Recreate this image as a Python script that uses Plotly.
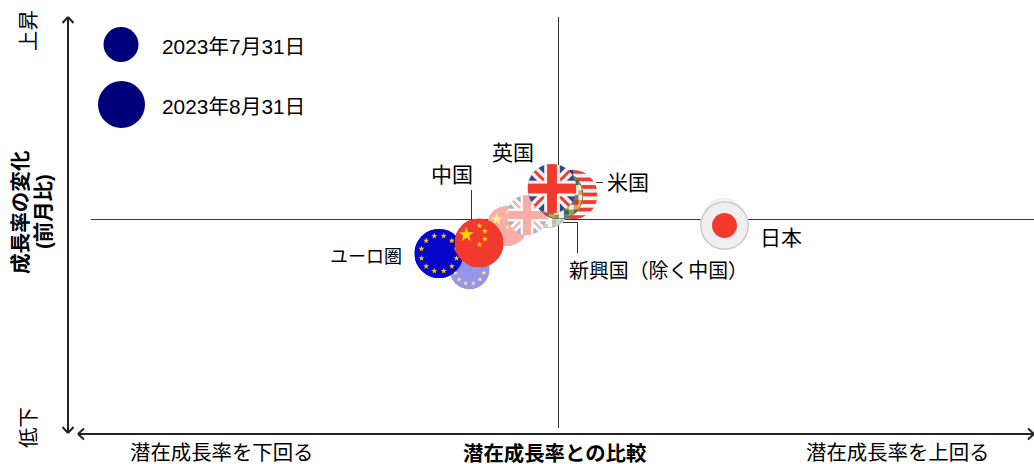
import base64
import math
import plotly.graph_objects as go

# Growth gap (x) and month-on-month change (y) per economy, 31 July 2023
july_names = ["ユーロ圏", "中国", "新興国", "米国", "日本", "英国"]
july_gap = [-0.885, -0.51, -0.10, 0.07, 1.655, -0.31]
july_change = [-0.50, -0.07, 0.11, 0.20, 0.01, 0.04]

# Same measures, 31 August 2023
august_names = ["ユーロ圏", "中国", "米国", "新興国", "英国", "日本"]
august_gap = [-1.19, -0.79, 0.15, 0.01, -0.06, 1.665]
august_change = [-0.345, -0.24, 0.245, 0.24, 0.305, -0.065]

legend_dates = ["2023年7月31日", "2023年8月31日"]
legend_gap = [-4.37, -4.365]
legend_change = [1.745, 1.145]

FONT = "Liberation Sans, Noto Sans CJK JP, sans-serif"
JULY_PX, AUGUST_PX = 40, 49
RED, GOLD = "#f23a2c", "#fdd20e"


def soften(color, keep):
    rgb = [int(color[i:i + 2], 16) for i in (1, 3, 5)]
    return "#" + "".join(f"{round(255 + (c - 255) * keep):02x}" for c in rgb)


def star(cx, cy, r, fill):
    pts = []
    for i in range(10):
        rad = r if i % 2 == 0 else r * 0.4
        a = -math.pi / 2 + i * math.pi / 5
        pts.append(f"{cx + rad * math.cos(a):.2f},{cy + rad * math.sin(a):.2f}")
    return f'<polygon points="{" ".join(pts)}" fill="{fill}"/>'


def eu_flag(c):
    body = f'<rect x="-50" y="-50" width="100" height="100" fill="{c("#0606c8")}"/>'
    for i in range(12):
        a = i * math.pi / 6 + math.pi / 12
        body += star(37 * math.cos(a), 37 * math.sin(a), 6.5, c("#fcc60c"))
    return body


def china_flag(c):
    body = f'<rect x="-50" y="-50" width="100" height="100" fill="{c(RED)}"/>'
    body += star(-26, -17, 16, c(GOLD))
    for dx, dy in [(1, -35), (12, -24), (12, -8), (1, 3)]:
        body += star(dx, dy, 6.5, c(GOLD))
    return body


def uk_flag(c):
    white, red = c("#f3f0ef"), c(RED)
    return (
        f'<rect x="-50" y="-50" width="100" height="100" fill="{c("#2c4a8c")}"/>'
        f'<path d="M-50-50L50 50M50-50L-50 50" stroke="{white}" stroke-width="20"/>'
        f'<path d="M-50-50L0 0M50 50L0 0" stroke="{red}" stroke-width="6"/>'
        f'<path d="M50-50L0 0M-50 50L0 0" stroke="{red}" stroke-width="6"/>'
        f'<rect x="-50" y="-16" width="100" height="32" fill="{white}"/>'
        f'<rect x="-16" y="-50" width="32" height="100" fill="{white}"/>'
        f'<rect x="-50" y="-10" width="100" height="20" fill="{red}"/>'
        f'<rect x="-10" y="-50" width="20" height="100" fill="{red}"/>'
    )


def us_flag(c):
    body = f'<rect x="-50" y="-50" width="100" height="100" fill="{c("#f5f3f3")}"/>'
    for i in range(0, 13, 2):
        body += f'<rect x="-50" y="{-50 + i * 100 / 13:.2f}" width="100" height="{100 / 13:.2f}" fill="{c("#ef3b36")}"/>'
    body += f'<rect x="-50" y="-50" width="50" height="46" fill="{c("#24386f")}"/>'
    return body


def emerging_flag(c):
    # Patchwork of national-flag colours
    palette = ["#3f7d45", "#f0eee6", "#c8402f", "#8f9a5c", "#f0eee6", "#d9a441", "#2f6e4f", "#6f7f86"]
    body = ""
    for row in range(10):
        for col in range(10):
            fill = c(palette[(row * 3 + col * 5 + row * col) % 8])
            body += f'<rect x="{-50 + col * 10}" y="{-50 + row * 10}" width="10.5" height="10.5" fill="{fill}"/>'
    body += f'<circle r="49" fill="none" stroke="{c("#56625a")}" stroke-width="2"/>'
    return body


def japan_flag(c):
    return (
        f'<rect x="-50" y="-50" width="100" height="100" fill="{c("#efefef")}"/>'
        f'<circle r="48.5" fill="none" stroke="{c("#c9c9c9")}" stroke-width="3"/>'
        f'<circle r="25.5" fill="{c(RED)}"/>'
    )


FLAGS = {
    "ユーロ圏": (eu_flag, "#0606c8"), "中国": (china_flag, RED), "英国": (uk_flag, "#f3f0ef"),
    "米国": (us_flag, "#f5f3f3"), "新興国": (emerging_flag, "#8f9a5c"), "日本": (japan_flag, "#efefef"),
}


def flag_image(name, x, y, px, keep):
    draw, _ = FLAGS[name]
    body = draw(lambda col: soften(col, keep))
    svg = (
        '<svg xmlns="http://www.w3.org/2000/svg" width="200" height="200" viewBox="-50 -50 100 100">'
        f'<defs><clipPath id="d"><circle r="50"/></clipPath></defs><g clip-path="url(#d)">{body}</g></svg>'
    )
    uri = "data:image/svg+xml;base64," + base64.b64encode(svg.encode()).decode()
    return dict(source=uri, xref="x", yref="y", x=x, y=y, sizex=px / 100, sizey=px / 100,
                xanchor="center", yanchor="middle", sizing="stretch", layer="above")


fig = go.Figure()
LINE = "#222222"


def segment(x0, y0, x1, y1, width=1, color="#333333"):
    fig.add_shape(type="line", x0=x0, y0=y0, x1=x1, y1=y1, xref="x", yref="y",
                  line=dict(color=color, width=width), layer="below")


# Quadrant divider lines through the origin, nudged onto the pixel grid
segment(-4.67, -0.005, 4.76, -0.005)
segment(0.005, 2.02, 0.005, -2.09)

# Double-headed axes with open chevrons
segment(-4.90, 2.02, -4.90, -2.14, 2, LINE)
segment(-4.80, -2.15, 4.76, -2.15, 2, LINE)
for tip_x, tip_y, dx, dy in [(-4.90, 2.02, 0.055, -0.06), (-4.90, -2.14, 0.055, 0.06)]:
    segment(tip_x - dx, tip_y + dy, tip_x, tip_y, 2, LINE)
    segment(tip_x + dx, tip_y + dy, tip_x, tip_y, 2, LINE)
for tip_x, tip_y, dx, dy in [(-4.80, -2.15, 0.06, 0.055), (4.76, -2.15, -0.06, 0.055)]:
    segment(tip_x + dx, tip_y + dy, tip_x, tip_y, 2, LINE)
    segment(tip_x + dx, tip_y - dy, tip_x, tip_y, 2, LINE)

# Leader lines from the flags to their labels
segment(-0.865, 0.29, -0.865, -0.02)
segment(0.38, 0.365, 0.45, 0.365)
segment(0.05, -0.035, 0.195, -0.035)
segment(0.195, -0.035, 0.195, -0.345)

fig.add_trace(go.Scatter(
    x=july_gap, y=july_change, mode="markers", name="7月", hoverinfo="skip",
    marker=dict(size=JULY_PX, color=[soften(FLAGS[n][1], 0.42) for n in july_names], line_width=0, opacity=1),
))
fig.add_trace(go.Scatter(
    x=august_gap, y=august_change, mode="markers", name="8月", hoverinfo="skip",
    marker=dict(size=AUGUST_PX, color=[FLAGS[n][1] for n in august_names], line_width=0, opacity=1),
))
fig.add_trace(go.Scatter(
    x=legend_gap, y=legend_change, mode="markers", hoverinfo="skip",
    marker=dict(size=[35, 47], color="#00007a", line_width=0, opacity=1),
))

images = [flag_image(n, x, y, JULY_PX, 0.42) for n, x, y in zip(july_names, july_gap, july_change)]
images += [flag_image(n, x, y, AUGUST_PX, 1) for n, x, y in zip(august_names, august_gap, august_change)]


def label(text, x, y, angle=0, bold=False, size=20.4, anchor="center"):
    fig.add_annotation(
        text=f"<b>{text}</b>" if bold else text, x=x, y=y, xref="x", yref="y", showarrow=False,
        textangle=angle, xanchor=anchor, yanchor="middle", align="center",
        font=dict(family=FONT, size=size, color="#000000"),
    )


for date, gx, gy in zip(legend_dates, [-3.98, -3.98], [1.73, 1.13]):
    label(date, gx, gy, size=20.8, anchor="left")

label("英国", -0.455, 0.665, size=21)
label("中国", -1.065, 0.45, size=21)
label("米国", 0.70, 0.37, size=21)
label("日本", 2.225, -0.18, size=21)
label("ユーロ圏", -1.92, -0.38, size=18)
label("新興国（除く中国）", 1.0, -0.52, size=19.9)
label("潜在成長率を下回る", -3.365, -2.34)
label("潜在成長率との比較", -0.035, -2.34, bold=True)
label("潜在成長率を上回る", 3.395, -2.34)
label("上昇", -5.29, 1.88, angle=-90)
label("低下", -5.29, -2.09, angle=-90)
label("成長率の変化", -5.38, 0.07, angle=-90, bold=True, size=20.6)
label("(前月比)", -5.14, 0.07, angle=-90, bold=True)

fig.update_layout(
    width=1034, height=464, margin=dict(l=0, r=0, t=0, b=0), showlegend=False,
    paper_bgcolor="#ffffff", plot_bgcolor="#ffffff", images=images,
    xaxis=dict(range=[-5.58, 4.76], visible=False, fixedrange=True),
    yaxis=dict(range=[-2.45, 2.19], visible=False, fixedrange=True),
)
fig.write_html("out.html")
